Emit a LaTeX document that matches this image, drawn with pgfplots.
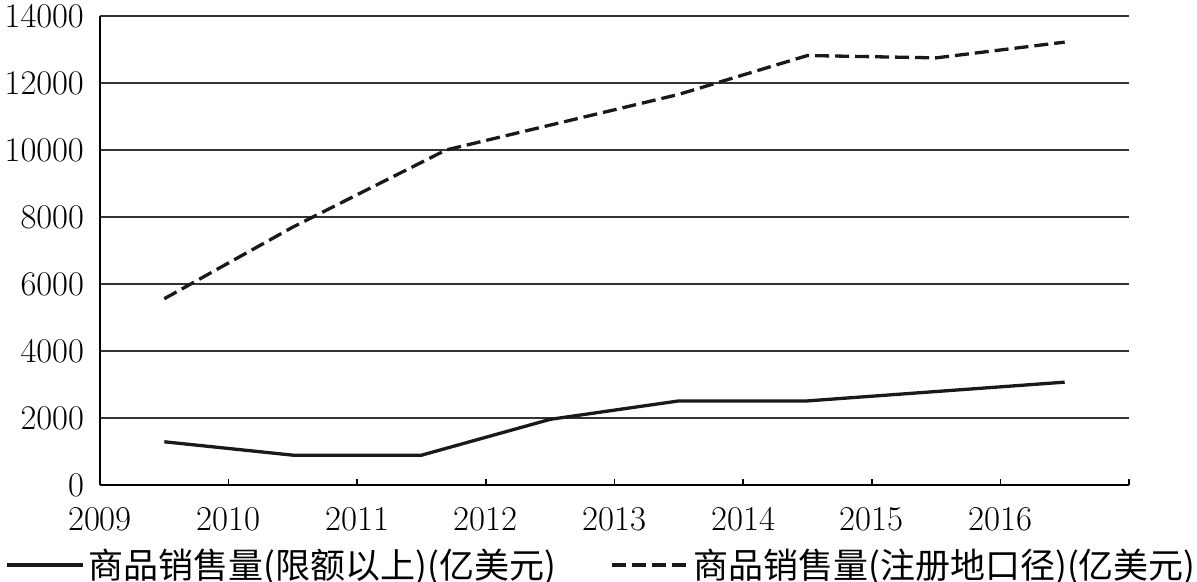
\documentclass[border=0pt]{standalone}
\usepackage{pgfplots}
\pgfplotsset{compat=1.18}
\usepackage{fontspec}
\newfontfamily\cjk{Noto Sans CJK SC}
\begin{document}
\begin{tikzpicture}
\useasboundingbox (0,0) rectangle (598.5pt,291pt);
\begin{axis}[
  at={(50pt,48.5pt)}, anchor=south west,
  scale only axis, width=514.5pt, height=234.5pt,
  xmin=0, xmax=8, ymin=0, ymax=14000,
  axis x line=bottom, axis y line=left,
  axis line style={-, line width=0.8pt, black},
  xtick={0,1,2,3,4,5,6,7,8},
  xticklabels={2009,2010,2011,2012,2013,2014,2015,2016,{}},
  ytick={0,2000,4000,6000,8000,10000,12000,14000},
  scaled y ticks=false,
  yticklabel style={/pgf/number format/fixed, /pgf/number format/1000 sep={}, xshift=-4.5pt},
  ymajorgrids, grid style={line width=0.7pt, color=black!80},
  tick align=inside,
  xtick style={line width=0.8pt, black}, major tick length=3pt,
  ytick style={draw=none},
  tick label style={font=\fontsize{17.4}{19}\selectfont},
  xticklabel style={yshift=-7.5pt},
  legend columns=2,
  legend style={at={(axis description cs:-0.0923,-0.1706)}, anchor=west,
    draw=none, fill=none, inner sep=0pt,
    font=\cjk\fontsize{17.5}{20}\selectfont,
    /tikz/every even column/.append style={column sep=25pt}},
  legend image code/.code={\draw[#1] (0pt,0pt) -- (38pt,0pt);},
]
\addplot[black!90, line width=1.65pt, line join=round] coordinates {
  (0.5,1290) (1.5,890) (2.5,890) (3.5,1960) (4.5,2510) (5.5,2510) (6.5,2790) (7.5,3070)
};
\addlegendentry{商品销售量(限额以上)(亿美元)}
\addplot[black!90, line width=1.65pt, line join=round, dash pattern=on 7pt off 3pt] coordinates {
  (0.5,5560) (1.5,7700) (2.69,10000) (4.5,11660) (5.5,12820) (6.5,12750) (7.5,13220)
};
\addlegendentry{商品销售量(注册地口径)(亿美元)}
\end{axis}
\end{tikzpicture}
\end{document}
